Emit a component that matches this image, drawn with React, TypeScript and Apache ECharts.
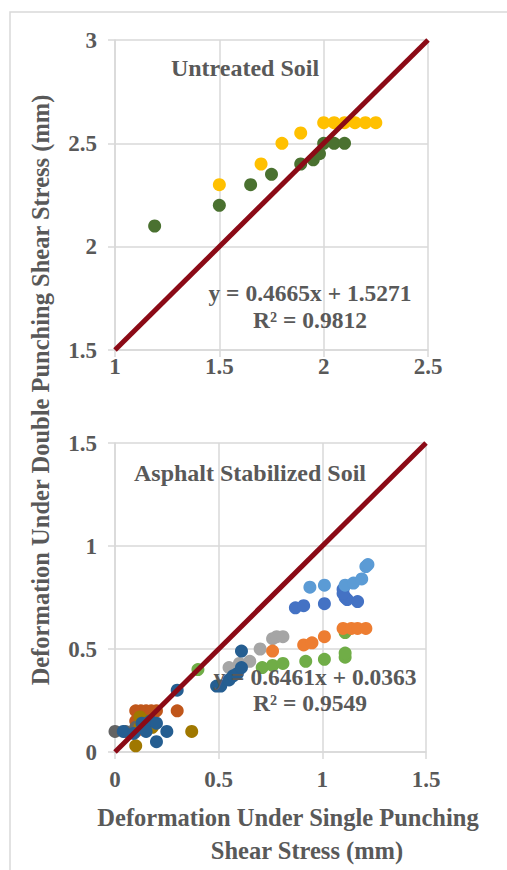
import React, { useEffect, useRef } from "react";
import * as echarts from "echarts";

// ---- Top chart: Untreated Soil ----
const untreatedYellow: number[][] = [
  [1.5, 2.3], [1.7, 2.4], [1.8, 2.5], [1.89, 2.55],
  [2.0, 2.6], [2.05, 2.6], [2.1, 2.6], [2.15, 2.6], [2.2, 2.6], [2.25, 2.6],
];
const untreatedGreen: number[][] = [
  [1.19, 2.1], [1.5, 2.2], [1.65, 2.3], [1.75, 2.35], [1.89, 2.4],
  [1.95, 2.42], [1.98, 2.45], [2.0, 2.5], [2.05, 2.5], [2.1, 2.5],
];
const untreatedDiagonal: number[][] = [[1, 1.5], [2.5, 3]];
const topTicks = { xMin: 1, xMax: 2.5, yMin: 1.5, yMax: 3, step: 0.5 };

// ---- Bottom chart: Asphalt Stabilized Soil ----
const sDarkGray: number[][] = [[0, 0.1], [0.05, 0.1], [0.1, 0.12]];
const sDarkBlue: number[][] = [
  [0.04, 0.1], [0.09, 0.09], [0.13, 0.14], [0.17, 0.15], [0.2, 0.14], [0.25, 0.1],
  [0.2, 0.05], [0.15, 0.1], [0.3, 0.3], [0.49, 0.32], [0.51, 0.32], [0.55, 0.35],
  [0.57, 0.37], [0.59, 0.38], [0.61, 0.41], [0.61, 0.49],
];
const sBrown: number[][] = [
  [0.1, 0.2], [0.125, 0.2], [0.15, 0.2], [0.175, 0.2], [0.2, 0.2],
  [0.1, 0.15], [0.1, 0.1], [0.3, 0.2],
];
const sDarkGold: number[][] = [
  [0.1, 0.03], [0.37, 0.1], [0.12, 0.12], [0.15, 0.15], [0.18, 0.12], [0.12, 0.17],
];
const sLightBlue: number[][] = [
  [0.94, 0.8], [1.01, 0.81], [1.11, 0.81], [1.15, 0.82], [1.19, 0.84], [1.21, 0.9], [1.22, 0.91],
];
const sBlue: number[][] = [
  [0.87, 0.7], [0.91, 0.71], [1.01, 0.72], [1.1, 0.79], [1.11, 0.75], [1.12, 0.74],
  [1.17, 0.73], [1.1, 0.77],
];
const sOrange: number[][] = [
  [0.76, 0.49], [0.91, 0.52], [0.95, 0.53], [1.01, 0.56], [1.1, 0.6], [1.14, 0.6],
  [1.17, 0.6], [1.21, 0.6],
];
const sGray: number[][] = [
  [0.55, 0.41], [0.6, 0.43], [0.65, 0.44], [0.7, 0.5], [0.76, 0.55], [0.78, 0.56], [0.81, 0.56],
];
const sGreen: number[][] = [
  [0.4, 0.4], [0.71, 0.41], [0.76, 0.42], [0.81, 0.43], [0.92, 0.44], [1.01, 0.45],
  [1.11, 0.46], [1.11, 0.48], [1.11, 0.58],
];
const asphaltDiagonal: number[][] = [[0, 0], [1.5, 1.5]];
const bottomTicks = { xMin: 0, xMax: 1.5, yMin: 0, yMax: 1.5, step: 0.5 };

const FONT = "'Liberation Serif', 'Times New Roman', serif";
const TEXT_COLOR = "#595959";
const GRID_COLOR = "#d9d9d9";

function makeAxis(gridIndex: number, min: number, max: number, step: number, margin: number) {
  return {
    type: "value",
    gridIndex,
    min,
    max,
    interval: step,
    axisLine: { show: true, lineStyle: { color: GRID_COLOR, width: 1.5 } },
    axisTick: { show: true, inside: false, length: 7, lineStyle: { color: GRID_COLOR, width: 1.5 } },
    splitLine: { show: true, lineStyle: { color: GRID_COLOR, width: 1.5 } },
    axisLabel: {
      show: true,
      margin,
      color: TEXT_COLOR,
      fontFamily: FONT,
      fontWeight: "bold",
      fontSize: 23,
    },
  };
}

function scatter(data: number[][], color: string, idx: number) {
  return {
    type: "scatter",
    xAxisIndex: idx,
    yAxisIndex: idx,
    data,
    symbolSize: 13,
    itemStyle: { color, opacity: 1 },
    z: 2,
  };
}

function diag(data: number[][], idx: number) {
  return {
    type: "line",
    xAxisIndex: idx,
    yAxisIndex: idx,
    data,
    showSymbol: false,
    symbol: "none",
    lineStyle: { color: "#8b0a16", width: 5 },
    z: 5,
  };
}

function txt(x: number, y: number, text: string, size: number, rotation = 0) {
  return {
    type: "text",
    x,
    y,
    rotation,
    silent: true,
    z: 10,
    style: {
      text,
      font: `bold ${size}px ${FONT}`,
      fill: TEXT_COLOR,
      textAlign: "center",
      textVerticalAlign: "middle",
      align: "center",
      verticalAlign: "middle",
    },
  };
}

export default function App() {
  const ref = useRef<HTMLDivElement>(null);
  useEffect(() => {
    if (!ref.current) return;
    const chart = echarts.init(ref.current, null, { renderer: "svg" });
    chart.setOption({
      animation: false,
      backgroundColor: "#ffffff",
      grid: [
        { left: 115, top: 40, width: 313, height: 310 },
        { left: 115, top: 443, width: 311, height: 309 },
      ],
      xAxis: [
        makeAxis(0, topTicks.xMin, topTicks.xMax, topTicks.step, 5),
        makeAxis(1, bottomTicks.xMin, bottomTicks.xMax, bottomTicks.step, 16),
      ],
      yAxis: [
        makeAxis(0, topTicks.yMin, topTicks.yMax, topTicks.step, 18),
        makeAxis(1, bottomTicks.yMin, bottomTicks.yMax, bottomTicks.step, 18),
      ],
      series: [
        scatter(untreatedYellow, "#ffc000", 0),
        scatter(untreatedGreen, "#4a7130", 0),
        diag(untreatedDiagonal, 0),
        scatter(sGray, "#a5a5a5", 1),
        scatter(sGreen, "#70ad47", 1),
        scatter(sOrange, "#ed7d31", 1),
        scatter(sBlue, "#4472c4", 1),
        scatter(sLightBlue, "#5b9bd5", 1),
        scatter(sBrown, "#c0561a", 1),
        scatter(sDarkGray, "#636363", 1),
        scatter(sDarkGold, "#a07800", 1),
        scatter(sDarkBlue, "#255e91", 1),
        diag(asphaltDiagonal, 1),
      ],
      graphic: [
        {
          type: "rect",
          silent: true,
          z: 0,
          shape: { x: 10, y: 12, width: 600, height: 900 },
          style: { fill: "none", stroke: GRID_COLOR, lineWidth: 1.5 },
        },
        txt(245, 68, "Untreated Soil", 24),
        txt(310, 293, "y = 0.4665x + 1.5271", 23.5),
        txt(310, 320, "R² = 0.9812", 23.5),
        txt(250, 473, "Asphalt Stabilized Soil", 24),
        txt(315, 677, "y = 0.6461x + 0.0363", 23.5),
        txt(310, 703, "R² = 0.9549", 23.5),
        txt(40, 390, "Deformation Under Double Punching Shear Stress (mm)", 24.5, Math.PI / 2),
        txt(288, 817, "Deformation Under Single Punching", 24.5),
        txt(307, 850, "Shear Stress (mm)", 24.5),
      ],
    });
    return () => chart.dispose();
  }, []);
  return (
    <div
      ref={ref}
      style={{ position: "fixed", left: 0, top: 0, width: 507, height: 870, background: "#fff" }}
    />
  );
}
